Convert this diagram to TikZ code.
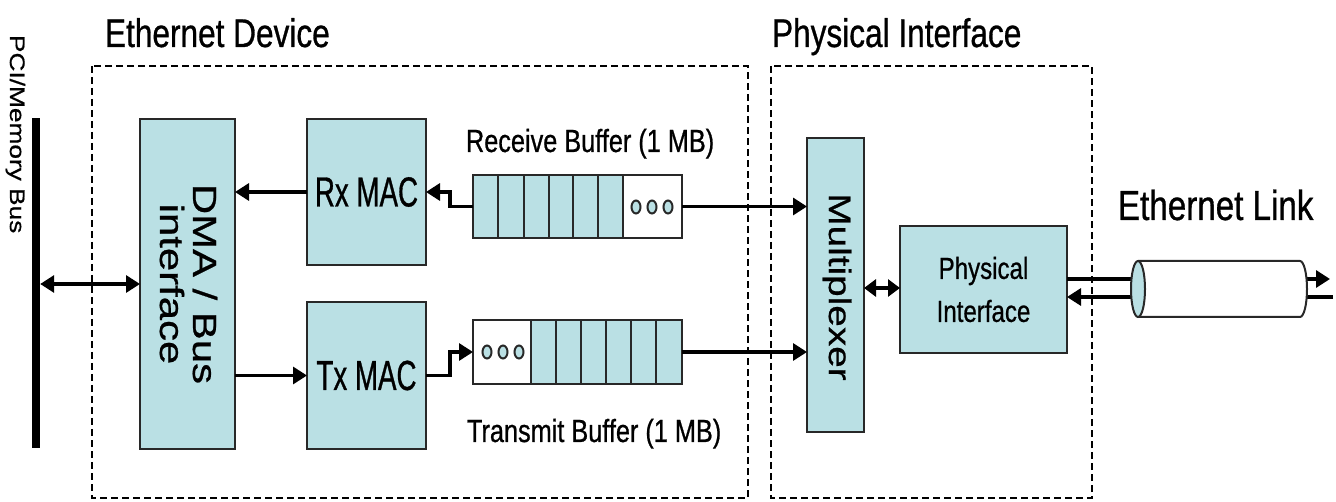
\documentclass[tikz,border=0pt]{standalone}
\usepackage{fontspec}
\usetikzlibrary{arrows.meta}
\newfontfamily\hfont{Liberation Sans}[FakeStretch=0.79, FakeBold=0.7]
\newfontfamily\macfont{Liberation Sans}[FakeStretch=0.66, FakeBold=0.7]
\newfontfamily\vfont{Liberation Sans}[FakeStretch=1.25, FakeBold=0.7]
\definecolor{boxfill}{RGB}{186,224,228}
\definecolor{edge}{RGB}{40,40,40}
\tikzset{
  blk/.style={draw=edge, fill=boxfill, line width=2.2pt, inner sep=0pt, outer sep=0pt},
  bufbox/.style={draw=edge, line width=2.2pt, inner sep=0pt, outer sep=0pt,
                 minimum width=209pt, minimum height=63pt},
  cell/.style={draw=edge, line width=2.2pt},
  dot/.style={draw=edge, fill=boxfill, line width=2pt},
  txt/.style={inner sep=0pt, outer sep=0pt, text=black},
  region/.style={draw=black, line width=2pt, dash pattern=on 7pt off 4pt},
  tip/.style={Triangle[length=14pt,width=17pt]},
  arr/.style={line width=3.2pt, -{Triangle[length=14pt,width=17pt]}},
  dbl/.style={line width=3.2pt, {Triangle[length=14pt,width=17pt]}-{Triangle[length=14pt,width=17pt]}},
  dbls/.style={line width=3.2pt, {Triangle[length=12pt,width=17pt]}-{Triangle[length=12pt,width=17pt]}},
}
\begin{document}
\begin{tikzpicture}[x=1pt, y=-1pt]
\useasboundingbox (0,0) rectangle (1336,502);

% dashed regions
\draw[region] (92,66) rectangle (748,498);
\draw[region] (771,66) rectangle (1092,498);

% titles
\node[txt, anchor=base west, font=\hfont\fontsize{40}{46}\selectfont] (devtitle) at (105,47) {Ethernet Device};
\node[txt, anchor=base west, font=\hfont\fontsize{40}{46}\selectfont] (phytitle) at (772,47) {Physical Interface};
\node[txt, anchor=base west, font=\hfont\fontsize{42}{48}\selectfont] (linktitle) at (1118,220) {Ethernet Link};

% system bus
\node[fill=black, inner sep=0pt, minimum width=8pt, minimum height=330pt] (bus) at (36,283) {};
\node[txt, rotate=-90, anchor=base west, font=\vfont\fontsize{21}{24}\selectfont] (buslabel) at (10,35) {PCI/Memory Bus};

% main blocks
\node[blk, minimum width=95pt, minimum height=330pt] (dma) at (187.5,284) {};
\node[txt, rotate=-90, align=center, font=\vfont\fontsize{33.5}{33}\selectfont] (dmatext) at (188.5,284) {DMA / Bus\\interface};
\node[blk, minimum width=119pt, minimum height=146pt, font=\macfont\fontsize{42}{46}\selectfont] (rxmac) at (366.5,192) {Rx MAC};
\node[blk, minimum width=119pt, minimum height=147pt, font=\macfont\fontsize{42}{46}\selectfont] (txmac) at (366.5,375.5) {Tx MAC};
\node[blk, minimum width=57pt, minimum height=294pt] (mux) at (835.5,285) {};
\node[txt, rotate=-90, font=\vfont\fontsize{31}{34}\selectfont] (muxtext) at (837,287) {Multiplexer};
\node[blk, minimum width=167pt, minimum height=127pt, align=center, font=\hfont\fontsize{30.5}{43}\selectfont] (phy) at (983.5,289.5) {Physical\\Interface};

% receive buffer: six filled slots, then free space
\fill[boxfill] (473,175) rectangle (623,238);
\foreach \cx in {498,524,549,573,598,623} \draw[cell] (\cx,175) -- (\cx,238);
\foreach \cx in {636,652,668} \draw[dot] (\cx,207) ellipse [x radius=4.5pt, y radius=6.5pt];
\node[bufbox] (rxbuf) at (577.5,206.5) {};
\node[txt, anchor=base west, font=\hfont\fontsize{32}{36}\selectfont] (rxlabel) at (466,152) {Receive Buffer (1 MB)};

% transmit buffer: free space, then six filled slots
\fill[boxfill] (531,320) rectangle (682,384);
\foreach \cx in {531,556,581,606,631,656} \draw[cell] (\cx,320) -- (\cx,384);
\foreach \cx in {487,503,519} \draw[dot] (\cx,352) ellipse [x radius=4.5pt, y radius=6.5pt];
\node[bufbox, minimum height=64pt] (txbuf) at (577.5,352) {};
\node[txt, anchor=base west, font=\hfont\fontsize{32}{36}\selectfont] (txlabel) at (467,442) {Transmit Buffer (1 MB)};

% data paths
\draw[dbl] (bus.east |- dma.west) -- (dma.west);
\draw[arr] (rxmac.west) -- (dma.east |- rxmac.west);
\draw[arr] (dma.east |- txmac.west) -- (txmac.west);
\draw[arr] (rxbuf.west) -- ++(-23,0) |- (rxmac.east);
\draw[arr] (txmac.east) -- ++(24,0) |- (txbuf.west);
\draw[arr] (rxbuf.east) -- (mux.west |- rxbuf.east);
\draw[arr] (txbuf.east) -- (mux.west |- txbuf.east);
\draw[dbls] (mux.east |- 0,288) -- (phy.west |- 0,288);

% link to the cable
\coordinate (linkout) at (1330,279);
\coordinate (linkin) at (1333,297);
\draw[arr] (phy.east |- linkout) -- (linkout);
\draw[arr] (linkin) -- (phy.east |- linkin);

% cable
\fill[white] (1138,261) -- (1300,261) arc[start angle=90, end angle=-90, x radius=7pt, y radius=28pt] -- (1138,317) -- cycle;
\draw[edge, line width=2pt] (1138,261) -- (1300,261) arc[start angle=90, end angle=-90, x radius=7pt, y radius=28pt] -- (1138,317);
\draw[edge, fill=boxfill, line width=2pt] (1138,289) ellipse [x radius=7pt, y radius=28pt];
\end{tikzpicture}
\end{document}
